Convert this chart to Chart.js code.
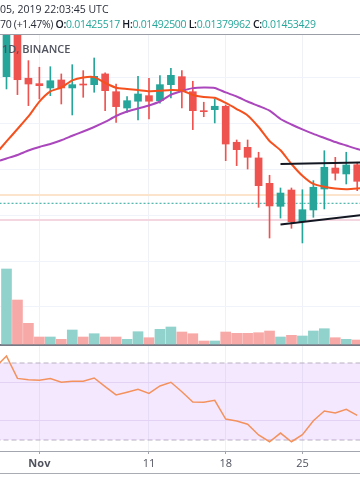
<!DOCTYPE html>
<html>
<head>
<meta charset="utf-8">
<script src="https://cdn.jsdelivr.net/npm/chart.js@4.4.1/dist/chart.umd.min.js"></script>
<style>
  html, body { margin: 0; padding: 0; background: #fff; }
  body { width: 360px; height: 504px; position: relative; overflow: hidden; font-family: "Open Sans", sans-serif; }
  #chart { position: absolute; left: 0; top: 0; }
  #hdr { position: absolute; left: 0; top: 0; width: 360px; height: 34px; border-bottom: 1px solid #9b9ea6; color: #2a2e39; font-size: 10.5px; white-space: nowrap; overflow: hidden; }
  #hdr .l1 { position: absolute; left: 0; top: 2px; }
  #hdr .l2 { position: absolute; left: 0; top: 17px; letter-spacing: -0.3px; }
  #hdr b { font-weight: 600; color: #131722; }
  .v { color: #26a69a; }
  #sym { position: absolute; left: 2px; top: 41px; font-size: 11px; font-weight: 600; color: #50535e; }
  #foot { position: absolute; left: 0; top: 473px; width: 360px; height: 1px; background: #a9acb3; }
</style>
</head>
<body>
<canvas id="chart" width="360" height="504"></canvas>
<div id="hdr">
  <div class="l1">05, 2019 22:03:45 UTC</div>
  <div class="l2">70 (+1.47%) <b>O:</b><span class="v">0.01425517</span> <b>H:</b><span class="v">0.01492500</span> <b>L:</b><span class="v">0.01379962</span> <b>C:</b><span class="v">0.01453429</span></div>
</div>
<div id="sym">1D, BINANCE</div>
<div id="foot"></div>
<script>
// day index, 0 = Oct 29
const days = [0, 1, 2, 3, 4, 5, 6, 7, 8, 9, 10, 11, 12, 13, 14, 15, 16, 17, 18, 19, 20, 21, 22, 23, 24, 25, 26, 27, 28, 29, 30, 31, 32];
const opens = [0.015913, 0.016510, 0.015896, 0.015837, 0.015790, 0.015877, 0.015790, 0.015833, 0.015826, 0.015943, 0.015749, 0.015571, 0.015645, 0.015706, 0.015651, 0.015826, 0.015913, 0.015749, 0.015542, 0.015553, 0.015590, 0.015197, 0.015142, 0.015026, 0.014749, 0.014498, 0.014676, 0.014330, 0.014458, 0.014687, 0.014916, 0.014851, 0.014952];
const highs = [0.016619, 0.016554, 0.016088, 0.016016, 0.016022, 0.015943, 0.016044, 0.015979, 0.016117, 0.015954, 0.015833, 0.015695, 0.015917, 0.015896, 0.015924, 0.016005, 0.015979, 0.015863, 0.015634, 0.015670, 0.015604, 0.015222, 0.015222, 0.015088, 0.014837, 0.014698, 0.014698, 0.014679, 0.014778, 0.015105, 0.015033, 0.015088, 0.014979];
const lows = [0.015779, 0.015717, 0.015597, 0.015670, 0.015706, 0.015615, 0.015495, 0.015688, 0.015743, 0.015542, 0.015415, 0.015524, 0.015440, 0.015451, 0.015623, 0.015681, 0.015571, 0.015335, 0.015476, 0.015408, 0.014996, 0.014942, 0.014905, 0.014487, 0.014152, 0.014370, 0.014258, 0.014098, 0.014378, 0.014469, 0.014785, 0.014742, 0.014669];
const closes = [0.016532, 0.015880, 0.015833, 0.015815, 0.015869, 0.015790, 0.015826, 0.015822, 0.015917, 0.015760, 0.015586, 0.015651, 0.015724, 0.015645, 0.015826, 0.015928, 0.015754, 0.015542, 0.015531, 0.015590, 0.015178, 0.015116, 0.015033, 0.014723, 0.014502, 0.014643, 0.014330, 0.014461, 0.014706, 0.014924, 0.014859, 0.014949, 0.014771];
const volumes = [7600, 4500, 2170, 800, 800, 570, 1500, 800, 1130, 800, 800, 570, 1330, 730, 1570, 1800, 1300, 1130, 400, 400, 1300, 1170, 1170, 1230, 1400, 800, 970, 900, 1400, 1630, 730, 570, 500];

const maDays = [-1, 0, 1, 2, 3, 4, 5, 6, 7, 8, 9, 10, 11, 12, 13, 14, 15, 16, 17, 18, 19, 20, 21, 22, 23, 24, 25, 26, 27, 28, 29, 30, 31, 32, 33];
const maFast = [0.015069, 0.015206, 0.015342, 0.015479, 0.015640, 0.015752, 0.015795, 0.015872, 0.015904, 0.015908, 0.015844, 0.015793, 0.015779, 0.015768, 0.015754, 0.015760, 0.015768, 0.015762, 0.015713, 0.015692, 0.015683, 0.015626, 0.015560, 0.015490, 0.015364, 0.015211, 0.015110, 0.014960, 0.014831, 0.014742, 0.014711, 0.014693, 0.014685, 0.014693, 0.014698];
const maSlow = [0.014982, 0.015020, 0.015058, 0.015107, 0.015146, 0.015178, 0.015219, 0.015268, 0.015315, 0.015364, 0.015419, 0.015484, 0.015533, 0.015566, 0.015599, 0.015642, 0.015716, 0.015757, 0.015788, 0.015795, 0.015790, 0.015741, 0.015697, 0.015642, 0.015593, 0.015542, 0.015451, 0.015391, 0.015337, 0.015288, 0.015244, 0.015200, 0.015162, 0.015124, 0.015091];

const rsiDays = [-1, 0, 1, 2, 3, 4, 5, 6, 7, 8, 9, 10, 11, 12, 13, 14, 15, 16, 17, 18, 19, 20, 21, 22, 23, 24, 25, 26, 27, 28, 29, 30, 31, 32];
const rsi = [67.9, 73.6, 62.0, 61.3, 61.0, 61.9, 60.0, 60.5, 60.5, 62.2, 57.7, 53.4, 54.8, 56.3, 54.2, 58.1, 60.0, 55.1, 49.7, 49.6, 50.6, 40.9, 39.9, 38.2, 32.6, 29.1, 33.6, 29.1, 32.8, 40.0, 45.1, 44.0, 45.9, 42.8];
const rsiBands = [70, 30];

const levels = [0.014622, 0.014531, 0.014349];
const upperTrend = [[25, 0.014960], [32.3, 0.014977]];
const lowerTrend = [[25, 0.014300], [32.3, 0.014400]];

const timeTicks = [3, 13, 20, 27];
const timeLabels = ['Nov', '11', '18', '25'];
const priceTicks = [0.0134, 0.0139, 0.0144, 0.0149, 0.0154, 0.0159];
const rsiTicks = [40, 60];

const UP = '#26a69a', DOWN = '#ef5350';
const UP_VOL = '#92d2cc', DOWN_VOL = '#f7a9a7';
const isUp = days.map((d, i) => closes[i] >= opens[i]);
const span = [-1, 33];

function hline(v, color, width, dash, axis, order) {
    return {
        type: 'line', yAxisID: axis, order: order,
        data: span.map(x => ({x: x, y: v})),
        borderColor: color, borderWidth: width, borderDash: dash,
        pointRadius: 0, fill: false
    };
}

const datasets = [
    {
        type: 'bar', yAxisID: 'y', order: 3, grouped: false, barThickness: 1,
        data: days.map((d, i) => ({x: d, y: [lows[i], highs[i]]})),
        backgroundColor: isUp.map(u => u ? UP : DOWN)
    },
    {
        type: 'bar', yAxisID: 'y', order: 2, grouped: false, barThickness: 7,
        data: days.map((d, i) => ({x: d, y: [opens[i], closes[i]]})),
        backgroundColor: isUp.map(u => u ? UP : DOWN)
    },
    {
        type: 'bar', yAxisID: 'yVol', order: 12, grouped: false, barThickness: 10,
        data: days.map((d, i) => ({x: d, y: volumes[i]})),
        backgroundColor: isUp.map(u => u ? UP_VOL : DOWN_VOL)
    },
    {
        type: 'line', yAxisID: 'y', order: 1,
        data: maDays.map((d, i) => ({x: d, y: maFast[i]})),
        borderColor: '#f4511e', borderWidth: 2, pointRadius: 0, tension: 0.2
    },
    {
        type: 'line', yAxisID: 'y', order: 1,
        data: maDays.map((d, i) => ({x: d, y: maSlow[i]})),
        borderColor: '#ab47bc', borderWidth: 2, pointRadius: 0, tension: 0.2
    },
    {
        type: 'line', yAxisID: 'yRsi', order: 4,
        data: rsiDays.map((d, i) => ({x: d, y: rsi[i]})),
        borderColor: '#f4925e', borderWidth: 1.5, pointRadius: 0
    },
    Object.assign(hline(rsiBands[0], '#b8afc0', 1, [5, 3], 'yRsi', 9), {fill: '+1', backgroundColor: 'rgba(200,140,250,0.2)'}),
    hline(rsiBands[1], '#b8afc0', 1, [5, 3], 'yRsi', 9),
    hline(levels[0], '#fbe3cc', 2, [], 'y', 8),
    hline(levels[1], '#26a69a', 1, [2, 2], 'y', 8),
    hline(levels[2], '#f4d6e0', 2, [], 'y', 8),
    {
        type: 'line', yAxisID: 'y', order: 0,
        data: upperTrend.map(p => ({x: p[0], y: p[1]})),
        borderColor: '#131722', borderWidth: 2, pointRadius: 0
    },
    {
        type: 'line', yAxisID: 'y', order: 0,
        data: lowerTrend.map(p => ({x: p[0], y: p[1]})),
        borderColor: '#131722', borderWidth: 2, pointRadius: 0
    }
];

const hiddenY = (ticks, gridColor, width) => ({
    type: 'linear', position: 'left', bounds: 'data',
    afterBuildTicks: s => { s.ticks = ticks.map(v => ({value: v})); },
    afterFit: s => { s.width = 0; },
    ticks: {display: false},
    border: {display: false},
    grid: {color: gridColor, lineWidth: width || 1, drawTicks: false}
});

const config = {
    type: 'bar',
    data: {datasets: datasets},
    options: {
        responsive: false,
        devicePixelRatio: 1,
        animation: false,
        events: [],
        layout: {padding: {top: 35, bottom: 31, left: 0, right: 0}},
        plugins: {legend: {display: false}, tooltip: {enabled: false}},
        scales: {
            x: {
                type: 'linear', position: 'bottom', min: -0.593, max: 32.254, offset: false,
                afterBuildTicks: s => { s.ticks = timeTicks.map(v => ({value: v})); },
                afterFit: s => { s.height = 22; },
                ticks: {
                    autoSkip: false, maxRotation: 0, padding: 3, color: '#50535e',
                    callback: (v, i) => timeLabels[i],
                    font: ctx => ({family: 'Open Sans', size: 11, weight: ctx.index === 0 ? 'bold' : 'normal'})
                },
                grid: {color: '#eef1f6', tickLength: 3, tickColor: '#a0a3ab', offset: false},
                border: {color: '#a3a6af'}
            },
            y: Object.assign(hiddenY(priceTicks, '#f0f3fa'), {min: 0.011827, max: 0.016368}),
            yVol: Object.assign(hiddenY([0], '#787b86', 2), {min: -10600, max: 31000}),
            yRsi: Object.assign(hiddenY(rsiTicks, '#ebe4f4'), {min: 24.29, max: 240.4})
        }
    }
};

new Chart(document.getElementById('chart'), config);
</script>
</body>
</html>
